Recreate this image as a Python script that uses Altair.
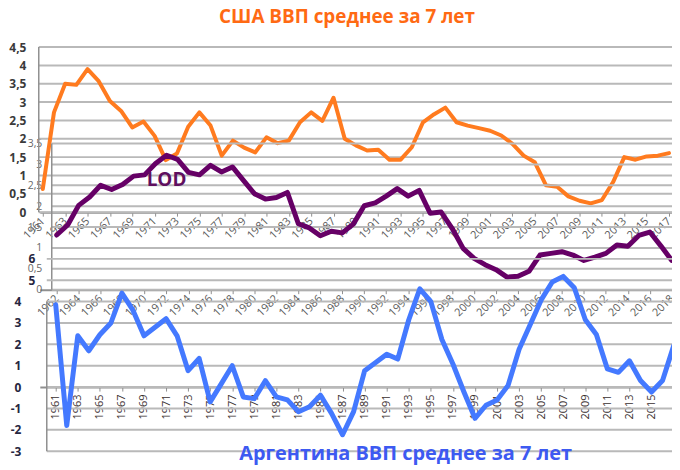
import altair as alt
import pandas as pd

# ---------------- data ----------------
usa_years = list(range(1961, 2018))
usa_gdp = [0.63, 2.72, 3.50, 3.47, 3.90, 3.57, 3.03, 2.76, 2.31, 2.47,
           2.08, 1.42, 1.60, 2.33, 2.72, 2.36, 1.54, 1.95, 1.76, 1.63,
           2.04, 1.88, 1.95, 2.45, 2.72, 2.49, 3.12, 2.00, 1.82, 1.68,
           1.70, 1.43, 1.43, 1.77, 2.45, 2.67, 2.85, 2.45, 2.36, 2.29,
           2.22, 2.09, 1.86, 1.54, 1.36, 0.73, 0.69, 0.43, 0.31, 0.24,
           0.33, 0.82, 1.50, 1.43, 1.52, 1.54, 1.61]

lod_years = list(range(1962, 2019))
lod_values = [1.31, 1.55, 2.02, 2.22, 2.50, 2.40, 2.52, 2.72, 2.75, 3.02,
              3.22, 3.12, 2.81, 2.75, 2.98, 2.82, 2.94, 2.62, 2.30, 2.17,
              2.21, 2.33, 1.58, 1.48, 1.29, 1.40, 1.36, 1.57, 2.01, 2.08,
              2.24, 2.42, 2.24, 2.38, 1.83, 1.86, 1.47, 0.99, 0.75, 0.60,
              0.48, 0.30, 0.32, 0.44, 0.83, 0.87, 0.91, 0.83, 0.70, 0.78,
              0.87, 1.07, 1.04, 1.30, 1.38, 1.05, 0.70]

arg_years = list(range(1961, 2018))
arg_gdp = [3.85, -1.80, 2.40, 1.70, 2.45, 3.00, 4.40, 3.60, 2.40, 2.80,
           3.20, 2.40, 0.77, 1.34, -0.69, 0.15, 1.00, -0.46, -0.54, 0.30,
           -0.46, -0.60, -1.15, -0.92, -0.38, -1.23, -2.23, -1.15, 0.77, 1.15,
           1.54, 1.31, 3.15, 4.60, 4.00, 2.23, 1.08, -0.23, -1.46, -0.85,
           -0.60, 0.08, 1.77, 2.92, 4.08, 4.92, 5.18, 4.65, 3.15, 2.46,
           0.85, 0.69, 1.23, 0.31, -0.23, 0.31, 1.92]

usa_y_ticks = [0, 0.5, 1, 1.5, 2, 2.5, 3, 3.5, 4, 4.5]
lod_y_ticks = [0, 0.5, 1, 1.5, 2, 2.5, 3, 3.5]
arg_y_ticks = [-3, -2, -1, 0, 1, 2, 3, 4]
arg_y_ticks_hi = [5, 6]

usa_x_labels = [y for y in usa_years if y % 2 == 1]
lod_x_labels = [y for y in lod_years if y % 2 == 0]
arg_x_labels = [y for y in arg_years if y % 2 == 1]

title_usa = "США ВВП среднее за 7 лет"
title_arg = "Аргентина ВВП среднее за 7 лет"
lod_label = ["LOD"]
lod_label_year = [1972.0]
lod_label_value = [2.62]

# ---------------- styles ----------------
FONT = "Open Sans"
COMMA = "replace(format(datum.value, '.1~f'), '.', ',')"
GRID = "#B9B9B9"
AXLINE = "#8F8F8F"
W, H = 636, 416

# scale domains (year / value) and where each panel's guides start
usa_xd, lod_xd, arg_xd = [1960.733, 2017.267], [1960.462, 2018.019], [1959.559, 2016.856]
usa_yd, lod_yd, arg_yd = [-6.613, 4.661], [-3.952, 5.952], [-3.163, 16.186]
usa_guide_start, lod_guide_start, arg_guide_start = 1960.64, 1961.55, 1960.19

usa_df = pd.DataFrame({"year": usa_years, "v": usa_gdp})
lod_df = pd.DataFrame({"year": lod_years, "v": lod_values})
arg_df = pd.DataFrame({"year": arg_years, "v": arg_gdp})
lod_lab_df = pd.DataFrame({"year": lod_label_year, "v": lod_label_value, "t": lod_label})
arg_title_df = pd.DataFrame({"label": [title_arg]})


def sc(d):
    return alt.Scale(domain=d, nice=False, zero=False)


def x_axis(offset, values, angle, color):
    return alt.Axis(
        orient="bottom", offset=offset, values=values,
        labelExpr="toString(datum.value)",
        labelAngle=angle, labelAlign="right", labelBaseline="middle",
        labelPadding=3, labelOverlap=False, labelFlush=False,
        labelFontSize=11, labelColor=color, labelFont=FONT,
        tickSize=4, tickColor=AXLINE, domainColor=AXLINE, domainWidth=2,
        grid=False, title=None)


def y_axis(values, offset, pad, size, weight, color, expr=COMMA):
    return alt.Axis(
        orient="left", offset=offset, values=values, labelExpr=expr,
        grid=False, domain=False, ticks=False,
        tickSize=0, labelPadding=pad, labelFontSize=size,
        labelFontWeight=weight, labelColor=color, labelFont=FONT,
        labelOverlap=False, title=None)


usa_xa = x_axis(-244, usa_x_labels, -45, "#5a5a5a")
lod_xa = x_axis(-166, lod_x_labels, -45, "#5a5a5a")
arg_xa = x_axis(-68, arg_x_labels, -90, "#3a3030")
usa_ya = y_axis(usa_y_ticks, 0, 14, 12, "bold", "#3a3a3a")
lod_ya = y_axis(lod_y_ticks, -4, 2, 10.5, "normal", "#666666")
arg_ya = y_axis(arg_y_ticks, 0, 19, 12, "bold", "#262640", "toString(datum.value)")
arg_ya_hi = y_axis(arg_y_ticks_hi, 0, 5, 12, "bold", "#262640", "toString(datum.value)")


def guides(ticks, vticks, xd, yd, xa, ya, start):
    """Horizontal grid lines and a vertical axis line, drawn as line marks."""
    rows = []
    for t in ticks:
        rows.append({"year": start, "v": t, "g": "h%s" % t})
        rows.append({"year": xd[1], "v": t, "g": "h%s" % t})
    rows.append({"year": start, "v": max(vticks), "g": "vert"})
    rows.append({"year": start, "v": min(vticks), "g": "vert"})
    df = pd.DataFrame(rows)
    grid = alt.Chart(df).transform_filter("datum.g != 'vert'").mark_line(
        color=GRID, strokeWidth=2, opacity=1).encode(
        x=alt.X("year:Q", scale=sc(xd), axis=xa),
        y=alt.Y("v:Q", scale=sc(yd), axis=ya),
        detail="g:N",
    )
    vert = alt.Chart(df).transform_filter("datum.g == 'vert'").mark_line(
        color=AXLINE, strokeWidth=1.5, opacity=1).encode(
        x=alt.X("year:Q", scale=sc(xd), axis=xa),
        y=alt.Y("v:Q", scale=sc(yd), axis=ya),
    )
    return [grid, vert]


# USA
usa_line = alt.Chart(usa_df).mark_line(
    color="#FF7B1F", strokeWidth=4, strokeJoin="round", strokeCap="round"
).encode(
    x=alt.X("year:Q", scale=sc(usa_xd), axis=usa_xa),
    y=alt.Y("v:Q", scale=sc(usa_yd), axis=usa_ya),
)
usa = alt.layer(*guides(usa_y_ticks, usa_y_ticks, usa_xd, usa_yd, usa_xa, usa_ya,
                        usa_guide_start), usa_line)

# LOD
lod_line = alt.Chart(lod_df).mark_line(
    color="#660066", strokeWidth=5, strokeJoin="round", strokeCap="round"
).encode(
    x=alt.X("year:Q", scale=sc(lod_xd), axis=lod_xa),
    y=alt.Y("v:Q", scale=sc(lod_yd), axis=lod_ya),
)
lod_text = alt.Chart(lod_lab_df).mark_text(
    font=FONT, fontSize=19, fontWeight="bold", color="#5F0F5F"
).encode(
    x=alt.X("year:Q", scale=sc(lod_xd), axis=lod_xa),
    y=alt.Y("v:Q", scale=sc(lod_yd), axis=lod_ya),
    text="t:N",
)
lod = alt.layer(*guides(lod_y_ticks, lod_y_ticks, lod_xd, lod_yd, lod_xa, lod_ya,
                        lod_guide_start), lod_line, lod_text)

# Argentina
arg_line = alt.Chart(arg_df).mark_line(
    color="#4479FF", strokeWidth=5, strokeJoin="round", strokeCap="round"
).encode(
    x=alt.X("year:Q", scale=sc(arg_xd), axis=arg_xa),
    y=alt.Y("v:Q", scale=sc(arg_yd), axis=arg_ya),
)
arg_title = alt.Chart(arg_title_df).mark_text(
    font=FONT, fontSize=20, fontWeight="bold", color="#3D5AF1", baseline="middle"
).encode(x=alt.value(368), y=alt.value(415), text="label:N")
arg = alt.layer(*guides(arg_y_ticks + arg_y_ticks_hi, arg_y_ticks, arg_xd, arg_yd,
                        arg_xa, arg_ya, arg_guide_start), arg_line, arg_title)

arg_hi = alt.Chart(arg_df).mark_line(opacity=0).encode(
    x=alt.X("year:Q", scale=sc(arg_xd), axis=None),
    y=alt.Y("v:Q", scale=sc(arg_yd), axis=arg_ya_hi),
)

chart = alt.layer(usa, lod, arg, arg_hi).resolve_scale(
    x="independent", y="independent"
).resolve_axis(
    x="independent", y="independent"
).properties(
    width=W, height=H,
    autosize=alt.AutoSizeParams(type="none"),
    padding={"left": 32, "top": 32, "right": 0, "bottom": 12},
    title=alt.Title(title_usa, anchor="middle", frame="group", font=FONT,
                    fontSize=19, fontWeight="bold", color="#FF6A13", dx=-9, offset=14),
).configure_view(stroke=None).configure_axis(labelOverlap=False)

chart.save("out.html", embed_options={"renderer": "svg", "actions": False})
